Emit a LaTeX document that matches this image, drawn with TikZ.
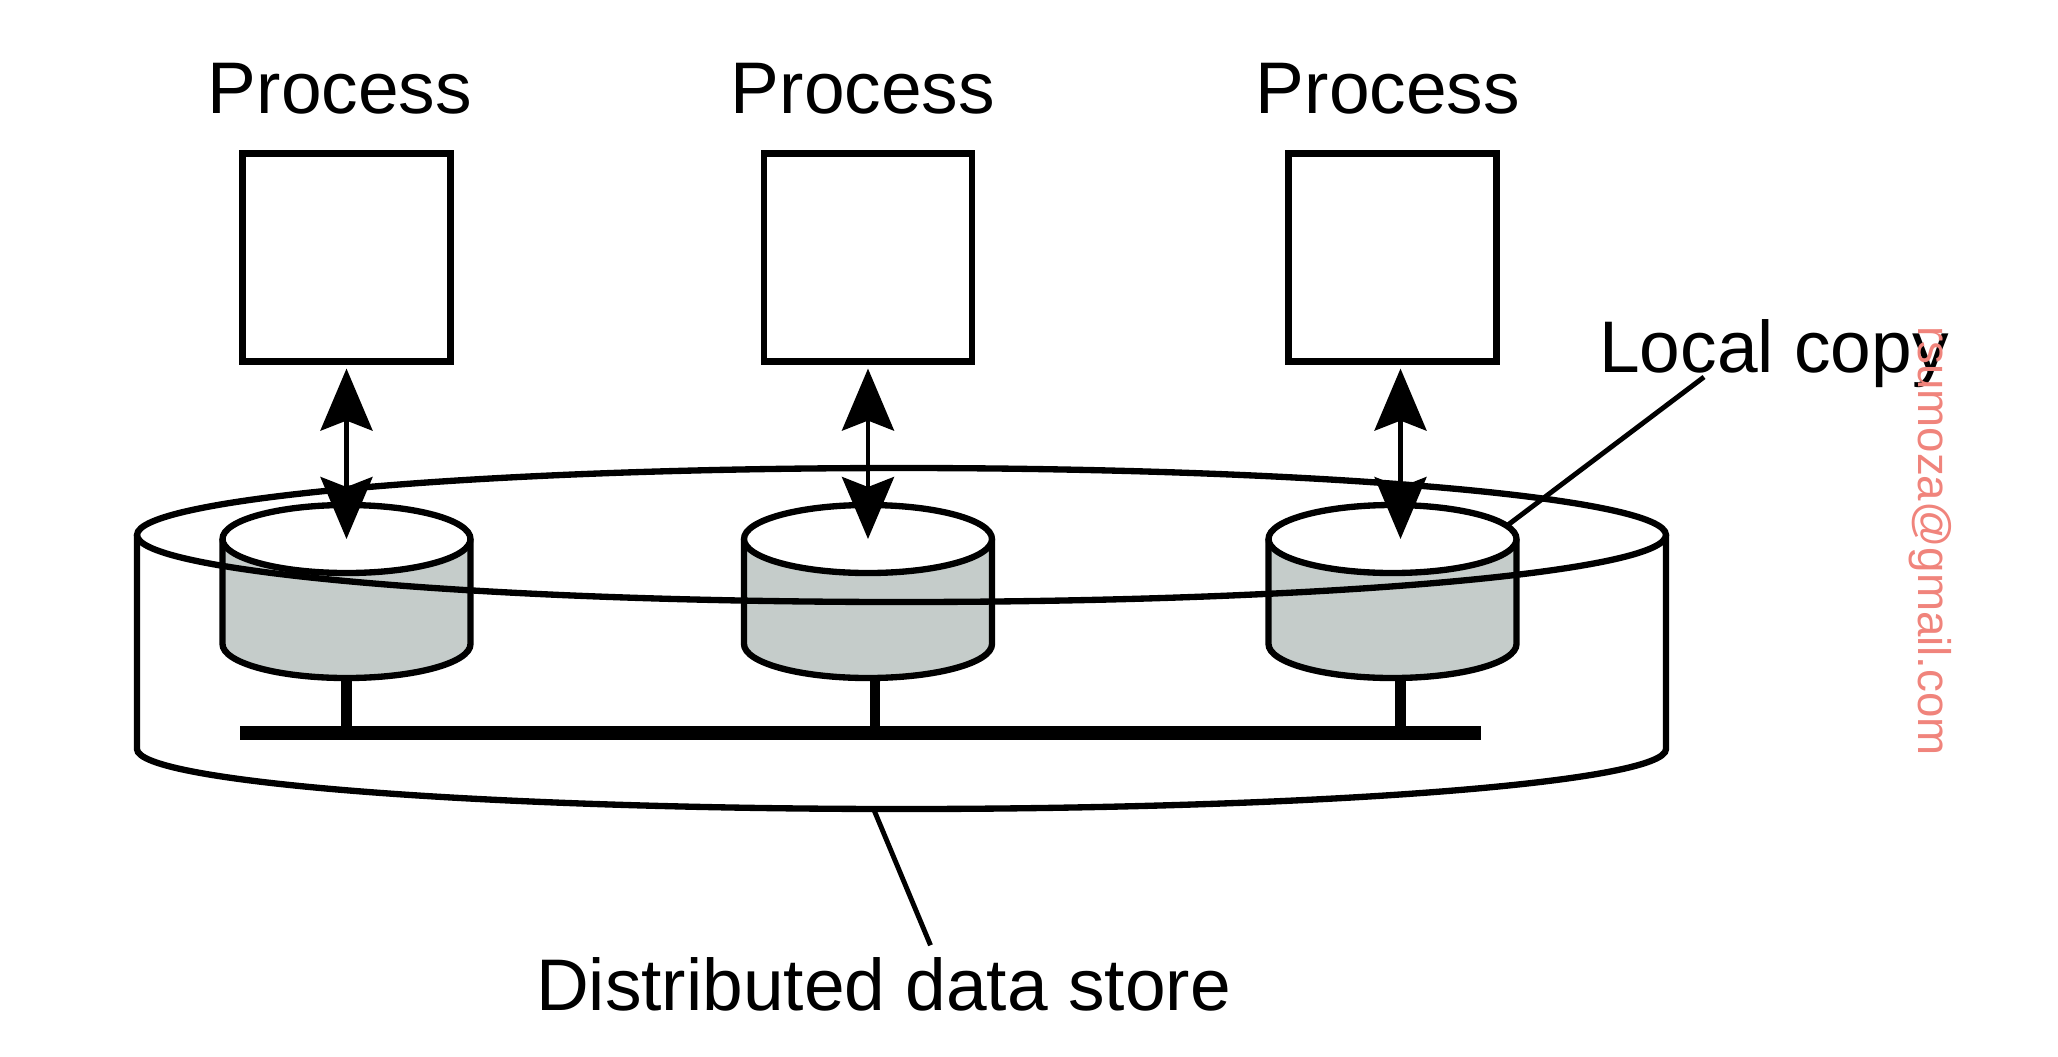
\documentclass[tikz,border=0pt]{standalone}
\usepackage{fontspec}
\setmainfont{Liberation Sans}
\usepackage{xcolor}
\usetikzlibrary{arrows.meta}
\definecolor{copygray}{RGB}{197,204,202}
\definecolor{marksalmon}{RGB}{240,132,124}
\tikzset{
  procbox/.style={draw, line width=1.75pt, minimum size=2.08cm, inner sep=0pt},
  biglabel/.style={font=\fontsize{20.8}{25}\selectfont},
  thickline/.style={line width=1.8pt},
  biarrow/.style={{Stealth[length=0.62cm,width=0.52cm,inset=0.1cm]}-{Stealth[length=0.62cm,width=0.52cm,inset=0.1cm]}, line width=1.3pt, shorten <=0.04cm},
  busline/.style={line width=3.8pt},
  stemline/.style={line width=3pt},
  leader/.style={line width=1.4pt},
  localcopy/.pic={
    \fill[copygray] (-1.24,0) -- (-1.24,-1.05) arc[start angle=180, end angle=360, x radius=1.24, y radius=0.34] -- (1.24,0) -- cycle;
    \draw[thickline] (-1.24,0) -- (-1.24,-1.05) arc[start angle=180, end angle=360, x radius=1.24, y radius=0.34] -- (1.24,0);
    \draw[thickline, fill=white] (0,0) ellipse[x radius=1.24, y radius=0.34];
    \coordinate (-top) at (0,0);
    \coordinate (-bot) at (0,-1.39);
    \coordinate (-edge) at (1.14,0.13);
  }
}
\begin{document}
\begin{tikzpicture}
\useasboundingbox (0,0) rectangle (20.58,-10.56);
\node[biglabel] (plabel1) at (3.40,-0.89) {Process};
\node[biglabel] (plabel2) at (8.63,-0.89) {Process};
\node[biglabel] (plabel3) at (13.88,-0.89) {Process};
\node[procbox] (proc1) at (3.465,-2.575) {};
\node[procbox] (proc2) at (8.68,-2.575) {};
\node[procbox] (proc3) at (13.925,-2.575) {};
\draw[thickline, fill=white] (1.37,-5.35) -- (1.37,-7.49) arc[start angle=180, end angle=360, x radius=7.645, y radius=0.6] -- (16.66,-5.35);
\coordinate (busL) at (2.40,-7.33);
\coordinate (busR) at (14.81,-7.33);
\draw[busline] (busL) -- (busR);
\pic (c1) at (3.465,-5.39) {localcopy};
\pic (c2) at (8.68,-5.39) {localcopy};
\pic (c3) at (13.925,-5.39) {localcopy};
\draw[stemline] (c1-bot) -- (c1-bot |- busL);
\draw[stemline] ([xshift=0.07cm]c2-bot) -- ([xshift=0.07cm]c2-bot |- busL);
\draw[stemline] ([xshift=0.08cm]c3-bot) -- ([xshift=0.08cm]c3-bot |- busL);
\draw[thickline] (9.015,-5.35) ellipse[x radius=7.645, y radius=0.67];
\draw[biarrow] (proc1.south) -- (c1-top);
\draw[biarrow] (proc2.south) -- (c2-top);
\draw[biarrow] ([xshift=0.08cm]proc3.south) -- ([xshift=0.08cm]c3-top);
\node[biglabel] (copylbl) at (17.74,-3.535) {Local copy};
\coordinate (copyfoot) at (17.04,-3.77);
\draw[leader] (copyfoot) -- (c3-edge);
\node[biglabel] (storelbl) at (8.835,-9.845) {Distributed data store};
\coordinate (storefoot) at (8.74,-8.10);
\draw[leader] (storefoot) -- ([xshift=0.47cm]storelbl.north);
\node[text=marksalmon, font=\fontsize{13}{15}\selectfont, rotate=-90] (mark) at (19.30,-5.41) {rsumoza@gmail.com};
\end{tikzpicture}
\end{document}
